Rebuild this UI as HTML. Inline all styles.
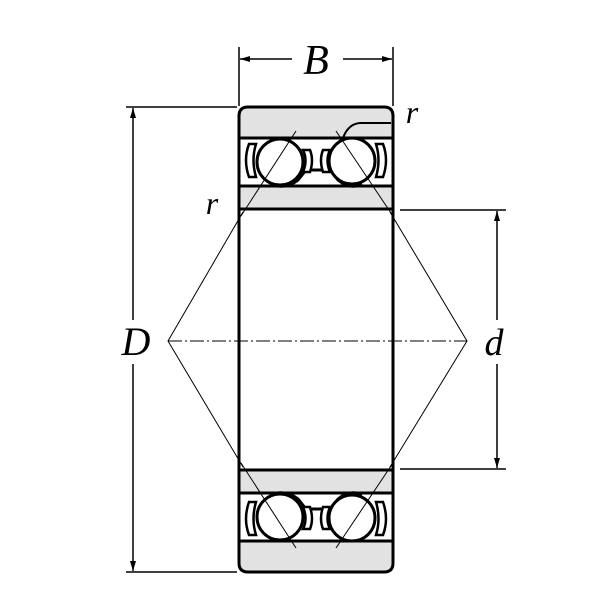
<!DOCTYPE html>
<html><head><meta charset="utf-8"><style>html,body{margin:0;padding:0;background:#fff}svg{display:block}</style></head>
<body>
<svg width="600" height="600" viewBox="0 0 600 600" xmlns="http://www.w3.org/2000/svg">
<defs>
<marker id="ar" markerWidth="10" markerHeight="8" refX="10" refY="4" orient="auto" markerUnits="userSpaceOnUse">
<path d="M0,1 L10,4 L0,7 Z" fill="#000"/></marker>
<g id="half">
  <path d="M239,116 Q239,107 248,107 L384,107 Q393,107 393,116 L393,138 L239,138 Z" fill="#e2e2e2" stroke="#000" stroke-width="3"/>
  <rect x="239" y="138" width="154" height="48" fill="#fff" stroke="#000" stroke-width="3"/>
  <path d="M239,186 L393,186 L393,209 L239,209 Z" fill="#e2e2e2" stroke="#000" stroke-width="3"/>
  <path d="M283,184 L295,172 L340,172 L352,184 Z" fill="#fff" stroke="none"/>
  <path d="M270,184 Q285,190 298,180 L306,170 L330,170 L338,180 Q350,190 362,184" fill="none" stroke="#000" stroke-width="3"/>
  <path d="M249,144 Q243,160 249,177 L256,177 Q251,160 256,144 Z" fill="#fff" stroke="#000" stroke-width="2.5"/>
  <path d="M383,144 Q389,160 383,177 L376,177 Q381,160 376,144 Z" fill="#fff" stroke="#000" stroke-width="2.5"/>
  <path d="M303,150 Q308,160 303,172 L310,172 Q314,160 310,150 Z" fill="#fff" stroke="#000" stroke-width="2.5"/>
  <path d="M330,150 Q325,160 330,172 L323,172 Q319,160 323,150 Z" fill="#fff" stroke="#000" stroke-width="2.5"/>
  <circle cx="280" cy="162" r="23" fill="#fff" stroke="#000" stroke-width="3"/>
  <circle cx="352" cy="161" r="23" fill="#fff" stroke="#000" stroke-width="3"/>
  <line x1="296" y1="131" x2="241" y2="216" stroke="#000" stroke-width="1"/>
  <line x1="336" y1="131" x2="393" y2="216" stroke="#000" stroke-width="1"/>
</g>
</defs>

<rect x="239" y="209" width="154" height="261" fill="#fff" stroke="#000" stroke-width="3"/>
<use href="#half"/>
<use href="#half" transform="translate(0,679) scale(1,-1)"/>
<path d="M343,138 Q348,124 360,123 L391,123" fill="none" stroke="#000" stroke-width="2"/>

<g stroke="#000" stroke-width="1" fill="none">
<polyline points="243,212 168,341 243,467"/>
<polyline points="390,212 467,341 390,467"/>
<line x1="168" y1="341" x2="467" y2="341" stroke-dasharray="14,3,2,3"/>
</g>

<g stroke="#000" stroke-width="1.5" fill="none">
<line x1="239" y1="47" x2="239" y2="106"/>
<line x1="393" y1="47" x2="393" y2="106"/>
<line x1="292" y1="59" x2="240" y2="59" marker-end="url(#ar)"/>
<line x1="343" y1="59" x2="392" y2="59" marker-end="url(#ar)"/>
<line x1="126" y1="107" x2="237" y2="107"/>
<line x1="126" y1="572" x2="237" y2="572"/>
<line x1="133" y1="320" x2="133" y2="108" marker-end="url(#ar)"/>
<line x1="133" y1="364" x2="133" y2="571" marker-end="url(#ar)"/>
<line x1="400" y1="210" x2="506" y2="210"/>
<line x1="400" y1="469" x2="506" y2="469"/>
<line x1="497" y1="320" x2="497" y2="211" marker-end="url(#ar)"/>
<line x1="497" y1="364" x2="497" y2="468" marker-end="url(#ar)"/>
</g>

<g font-family="Liberation Serif, serif" font-style="italic" fill="#000">
<text x="316" y="74" font-size="42" text-anchor="middle">B</text>
<text x="136" y="355" font-size="40" text-anchor="middle">D</text>
<text x="494" y="355" font-size="38" text-anchor="middle">d</text>
<text x="412" y="123" font-size="32" text-anchor="middle">r</text>
<text x="212" y="214" font-size="32" text-anchor="middle">r</text>
</g>
</svg>
</body></html>
